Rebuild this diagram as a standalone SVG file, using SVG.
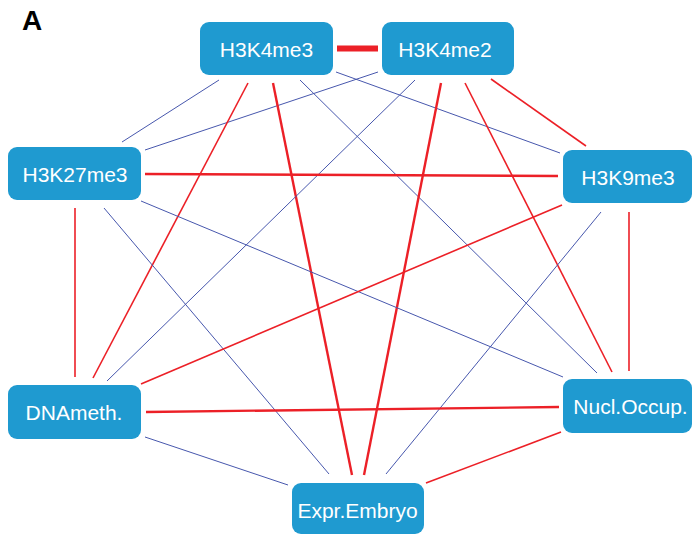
<svg xmlns="http://www.w3.org/2000/svg" width="692" height="534" viewBox="0 0 692 534">
<style>
.node rect{fill:#1f9ad0;}
.node text{fill:#ffffff;font-family:"Liberation Sans",Arial,sans-serif;font-size:21px;text-anchor:middle;}
.b{stroke:#4757ad;stroke-width:1;fill:none;}
.r{stroke:#ec2027;stroke-width:1.6;fill:none;}
.r2{stroke:#ec2027;stroke-width:2.4;fill:none;}
.r3{stroke:#ec2027;stroke-width:6;fill:none;}
.lbl{font-family:"Liberation Sans",Arial,sans-serif;font-weight:bold;font-size:28px;fill:#000;}
</style>
<rect width="692" height="534" fill="#ffffff"/>
<text class="lbl" x="22" y="30">A</text>
<g id="connectors">
<line class="r3" x1="337" y1="48.5" x2="378" y2="48.5"/>
<line class="b" x1="219" y1="80" x2="122" y2="142"/>
<line class="b" x1="378" y1="72" x2="145" y2="150"/>
<line class="b" x1="336" y1="72" x2="560" y2="153"/>
<line class="r" x1="248" y1="83" x2="93" y2="378"/>
<line class="r2" x1="273" y1="83" x2="352" y2="475"/>
<line class="b" x1="300" y1="80" x2="597" y2="373"/>
<line class="b" x1="415" y1="80" x2="107" y2="381"/>
<line class="r2" x1="441" y1="83" x2="364" y2="475"/>
<line class="r" x1="465" y1="83" x2="612" y2="372"/>
<line class="r" x1="491" y1="79" x2="586" y2="146"/>
<line class="r2" x1="145" y1="174" x2="558" y2="176"/>
<line class="r" x1="75" y1="208" x2="75" y2="377"/>
<line class="b" x1="104" y1="208" x2="329" y2="474"/>
<line class="b" x1="141" y1="201" x2="563" y2="377"/>
<line class="r" x1="562" y1="205" x2="141" y2="384"/>
<line class="b" x1="601" y1="212" x2="386" y2="474"/>
<line class="r" x1="629" y1="212" x2="629" y2="371"/>
<line class="r2" x1="146" y1="412" x2="559" y2="407"/>
<line class="b" x1="145" y1="437" x2="288" y2="485"/>
<line class="r" x1="426" y1="483" x2="561" y2="432"/>
</g>
<g id="H3K4me3" class="node"><rect x="200" y="22" width="133" height="53" rx="9"/><text x="266.5" y="57">H3K4me3</text></g>
<g id="H3K4me2" class="node"><rect x="382" y="22" width="132" height="53" rx="9"/><text x="445" y="57">H3K4me2</text></g>
<g id="H3K9me3" class="node"><rect x="563" y="150" width="129" height="53" rx="9"/><text x="628" y="185">H3K9me3</text></g>
<g id="H3K27me3" class="node"><rect x="8" y="147" width="133" height="53" rx="9"/><text x="75" y="182">H3K27me3</text></g>
<g id="DNAmeth" class="node"><rect x="8" y="385" width="133" height="54" rx="9"/><text x="74" y="420">DNAmeth.</text></g>
<g id="NuclOccup" class="node"><rect x="563" y="379" width="129" height="54" rx="9"/><text x="630.5" y="414">Nucl.Occup.</text></g>
<g id="ExprEmbryo" class="node"><rect x="292" y="483" width="132" height="51" rx="9"/><text x="357.5" y="518">Expr.Embryo</text></g>
</svg>
